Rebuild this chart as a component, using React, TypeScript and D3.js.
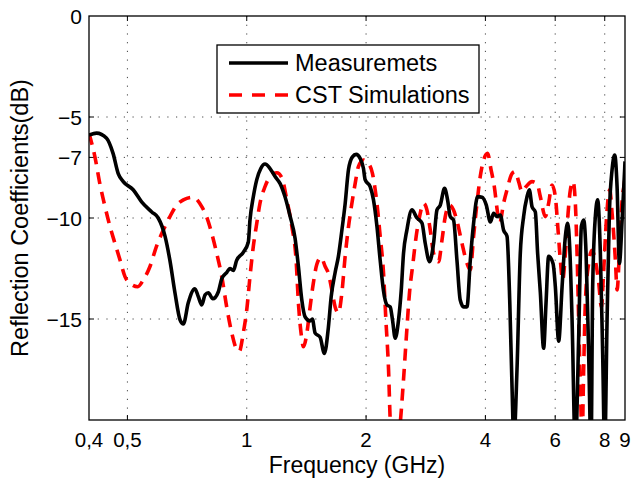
import React from "react";
import * as d3 from "d3";

const measFreq = [0.4, 0.418, 0.443, 0.46, 0.474, 0.488, 0.517, 0.543, 0.576, 0.598, 0.622, 0.64, 0.659, 0.679, 0.692, 0.712, 0.74, 0.755, 0.77, 0.785, 0.8, 0.821, 0.848, 0.865, 0.89, 0.907, 0.925, 0.943, 0.98, 1.009, 1.019, 1.039, 1.06, 1.085, 1.112, 1.145, 1.179, 1.214, 1.249, 1.286, 1.324, 1.35, 1.377, 1.404, 1.445, 1.464, 1.488, 1.531, 1.57, 1.607, 1.633, 1.671, 1.703, 1.738, 1.771, 1.806, 1.848, 1.888, 1.932, 1.97, 1.989, 2.048, 2.088, 2.13, 2.171, 2.213, 2.257, 2.301, 2.332, 2.369, 2.415, 2.453, 2.486, 2.535, 2.61, 2.688, 2.767, 2.82, 2.892, 2.96, 3.019, 3.078, 3.155, 3.211, 3.261, 3.324, 3.391, 3.456, 3.524, 3.594, 3.664, 3.735, 3.823, 3.922, 4.021, 4.116, 4.195, 4.279, 4.361, 4.446, 4.535, 4.609, 4.669, 4.718, 4.806, 4.899, 4.994, 5.094, 5.163, 5.245, 5.346, 5.418, 5.504, 5.61, 5.689, 5.775, 5.925, 6.005, 6.122, 6.245, 6.366, 6.451, 6.526, 6.618, 6.745, 6.877, 6.986, 7.079, 7.178, 7.287, 7.39, 7.459, 7.576, 7.679, 7.8, 7.905, 7.998, 8.11, 8.219, 8.35, 8.477, 8.595, 8.712, 8.851, 8.985, 9.0];
const measDb = [-5.9, -5.8, -6.05, -6.8, -7.8, -8.2, -8.6, -9.2, -9.7, -10.0, -10.9, -12.1, -13.7, -15.05, -15.25, -14.2, -13.5, -13.9, -14.3, -13.8, -13.7, -14.0, -13.65, -13.0, -12.7, -12.5, -12.6, -12.1, -11.7, -11.2, -10.1, -8.95, -8.1, -7.55, -7.33, -7.55, -7.95, -8.3, -8.95, -9.9, -11.0, -12.4, -14.06, -14.9, -15.1, -15.0, -15.7, -15.9, -16.7, -15.4, -13.9, -12.7, -11.9, -10.6, -9.3, -7.6, -6.97, -6.85, -7.05, -7.55, -8.1, -8.45, -9.1, -10.4, -12.1, -13.6, -14.3, -14.4, -15.05, -15.95, -15.05, -13.6, -11.75, -10.6, -9.6, -10.0, -10.25, -11.25, -12.16, -11.25, -9.6, -9.36, -8.53, -9.1, -9.93, -10.1, -12.1, -14.06, -14.4, -14.4, -12.1, -10.26, -8.94, -8.97, -9.36, -10.2, -9.77, -9.93, -9.85, -10.6, -10.9, -14.2, -18.35, -21, -17.5, -11.75, -9.93, -8.95, -8.6, -9.44, -9.7, -11.75, -13.7, -16.45, -14.2, -11.9, -12.25, -13.4, -16.1, -13.4, -10.9, -10.26, -11.4, -15.05, -21.5, -15.9, -10.4, -10.1, -11.75, -16.7, -21.5, -13.4, -9.93, -9.1, -11.75, -16.7, -21.5, -15.05, -9.77, -7.6, -6.88, -8.45, -12.25, -10.1, -7.54, -7.2];

const cstFreq = [0.4, 0.414, 0.426, 0.439, 0.452, 0.465, 0.479, 0.493, 0.513, 0.531, 0.548, 0.57, 0.592, 0.616, 0.64, 0.666, 0.692, 0.732, 0.77, 0.792, 0.816, 0.84, 0.865, 0.89, 0.917, 0.943, 0.958, 0.98, 1.0, 1.019, 1.039, 1.06, 1.08, 1.112, 1.145, 1.191, 1.226, 1.262, 1.299, 1.332, 1.35, 1.371, 1.39, 1.418, 1.445, 1.473, 1.502, 1.54, 1.577, 1.607, 1.639, 1.671, 1.703, 1.738, 1.771, 1.806, 1.842, 1.877, 1.913, 1.97, 2.001, 2.028, 2.076, 2.13, 2.171, 2.213, 2.244, 2.279, 2.301, 2.341, 2.396, 2.438, 2.486, 2.525, 2.574, 2.626, 2.676, 2.729, 2.793, 2.848, 2.904, 2.96, 3.047, 3.108, 3.168, 3.248, 3.324, 3.403, 3.491, 3.594, 3.664, 3.735, 3.793, 3.882, 3.958, 4.051, 4.133, 4.213, 4.295, 4.345, 4.446, 4.535, 4.669, 4.759, 4.852, 4.948, 5.065, 5.245, 5.4, 5.504, 5.665, 5.775, 5.89, 6.005, 6.1, 6.182, 6.266, 6.366, 6.466, 6.553, 6.657, 6.745, 6.812, 6.877, 6.946, 7.015, 7.079, 7.148, 7.287, 7.434, 7.576, 7.725, 7.845, 7.952, 8.077, 8.234, 8.35, 8.512, 8.595, 8.726, 8.851, 8.985, 9.0];
const cstDb = [-5.8, -6.97, -8.3, -9.44, -10.43, -11.25, -12.08, -12.9, -13.3, -13.4, -13.07, -12.4, -11.4, -10.6, -9.93, -9.36, -9.1, -8.97, -9.44, -9.93, -10.76, -11.75, -12.9, -14.4, -15.7, -16.5, -16.6, -15.7, -14.55, -12.9, -11.4, -10.26, -9.27, -8.45, -7.95, -7.76, -8.0, -9.1, -10.4, -12.08, -14.2, -15.7, -16.37, -15.7, -14.4, -13.2, -12.3, -11.95, -12.4, -12.75, -13.56, -14.4, -14.7, -13.7, -11.9, -10.43, -9.27, -8.3, -7.46, -7.13, -7.2, -7.3, -7.8, -9.27, -10.9, -12.7, -15.05, -17.5, -20, -21.5, -21.5, -20.2, -18.0, -16.0, -13.7, -12.24, -10.9, -9.93, -9.27, -9.6, -10.6, -11.75, -12.16, -11.1, -9.93, -9.36, -9.6, -10.26, -11.25, -12.24, -12.57, -10.9, -9.6, -7.95, -7.13, -6.8, -7.6, -8.45, -9.77, -10.26, -9.27, -8.6, -7.8, -7.7, -8.2, -8.7, -8.45, -8.2, -8.3, -8.95, -9.93, -9.27, -8.37, -8.95, -10.6, -12.1, -13.07, -11.75, -9.77, -8.6, -8.2, -9.27, -11.75, -15.05, -18.35, -21, -17.5, -14.2, -12.25, -11.6, -12.1, -13.2, -14.4, -12.6, -10.1, -8.6, -9.77, -12.1, -13.56, -11.4, -9.1, -8.1, -7.9];

const xTicks = [0.4, 0.5, 1, 2, 4, 6, 8, 9];
const xTickLabels = ["0,4", "0,5", "1", "2", "4", "6", "8", "9"];
const xGrid = [0.5, 1, 2, 4, 6, 8];
const yTicks = [0, -5, -7, -10, -15];
const yTickLabels = ["0", "\u22125", "\u22127", "\u221210", "\u221215"];
const yGrid = [-5, -7, -10, -15];
const seriesNames = ["Measuremets", "CST Simulations"];

const W = 632;
const H = 479;
const L = 89, R = 625, T = 16, B = 420;
const FONT = "'Liberation Sans', Arial, Helvetica, sans-serif";

export default function App() {
  const x = d3.scaleLog().domain([0.4, 9]).range([L, R]);
  const y = d3.scaleLinear().domain([-20, 0]).range([B, T]);
  const line = d3
    .line<[number, number]>()
    .x((d) => x(d[0]))
    .y((d) => y(d[1]))
    .curve(d3.curveMonotoneX);
  const meas = measFreq.map((f, i) => [f, measDb[i]] as [number, number]);
  const cst = cstFreq.map((f, i) => [f, cstDb[i]] as [number, number]);
  const tickLen = 5;

  return (
    <svg
      width={W}
      height={H}
      style={{ position: "absolute", left: 0, top: 0, background: "#fff" }}
      fontFamily={FONT}
    >
      <rect x={0} y={0} width={W} height={H} fill="#fff" />
      <defs>
        <clipPath id="plotClip">
          <rect x={L} y={T} width={R - L} height={B - T} />
        </clipPath>
      </defs>
      {/* grid */}
      {xGrid.map((v) => (
        <line key={"gx" + v} x1={x(v)} x2={x(v)} y1={T} y2={B} stroke="#444" strokeWidth={1} strokeDasharray="1.2,7.5" />
      ))}
      {yGrid.map((v) => (
        <line key={"gy" + v} x1={L} x2={R} y1={y(v)} y2={y(v)} stroke="#444" strokeWidth={1} strokeDasharray="1.2,7.5" />
      ))}
      {/* ticks */}
      {xGrid.map((v) => (
        <g key={"tx" + v}>
          <line x1={x(v)} x2={x(v)} y1={B} y2={B - tickLen} stroke="#000" strokeWidth={1} />
          <line x1={x(v)} x2={x(v)} y1={T} y2={T + tickLen} stroke="#000" strokeWidth={1} />
        </g>
      ))}
      {yGrid.map((v) => (
        <g key={"ty" + v}>
          <line x1={L} x2={L + tickLen} y1={y(v)} y2={y(v)} stroke="#000" strokeWidth={1} />
          <line x1={R} x2={R - tickLen} y1={y(v)} y2={y(v)} stroke="#000" strokeWidth={1} />
        </g>
      ))}
      {/* curves */}
      <g clipPath="url(#plotClip)">
        <path d={line(cst) || ""} fill="none" stroke="#ff0000" strokeWidth={3.6} strokeDasharray="12,8" />
        <path d={line(meas) || ""} fill="none" stroke="#000" strokeWidth={3.6} strokeLinejoin="round" />
      </g>
      {/* frame */}
      <rect x={L} y={T} width={R - L} height={B - T} fill="none" stroke="#000" strokeWidth={1.3} />
      {/* tick labels */}
      {xTicks.map((v, i) => (
        <text key={"xl" + v} x={x(v)} y={447} textAnchor="middle" fontSize={20.5} fill="#000">
          {xTickLabels[i]}
        </text>
      ))}
      {yTicks.map((v, i) => (
        <text key={"yl" + v} x={82} y={y(v)} textAnchor="end" dominantBaseline="central" fontSize={21} fill="#000">
          {yTickLabels[i]}
        </text>
      ))}
      {/* axis labels */}
      <text x={(L + R) / 2} y={472.5} textAnchor="middle" fontSize={23} fill="#000">
        Frequency (GHz)
      </text>
      <text transform={`translate(28, ${(T + B) / 2}) rotate(-90)`} textAnchor="middle" fontSize={23.5} fill="#000">
        Reflection Coefficients(dB)
      </text>
      {/* legend */}
      <g>
        <rect x={217} y={45} width={262} height={68} fill="#fff" stroke="#000" strokeWidth={1.3} />
        <line x1={229} x2={288} y1={63} y2={63} stroke="#000" strokeWidth={3.6} />
        <line x1={229} x2={288} y1={95} y2={95} stroke="#ff0000" strokeWidth={3.6} strokeDasharray="13,10" />
        <text x={295} y={63} dominantBaseline="central" fontSize={23.5} fill="#000">
          {seriesNames[0]}
        </text>
        <text x={295} y={95} dominantBaseline="central" fontSize={23.5} fill="#000">
          {seriesNames[1]}
        </text>
      </g>
    </svg>
  );
}
